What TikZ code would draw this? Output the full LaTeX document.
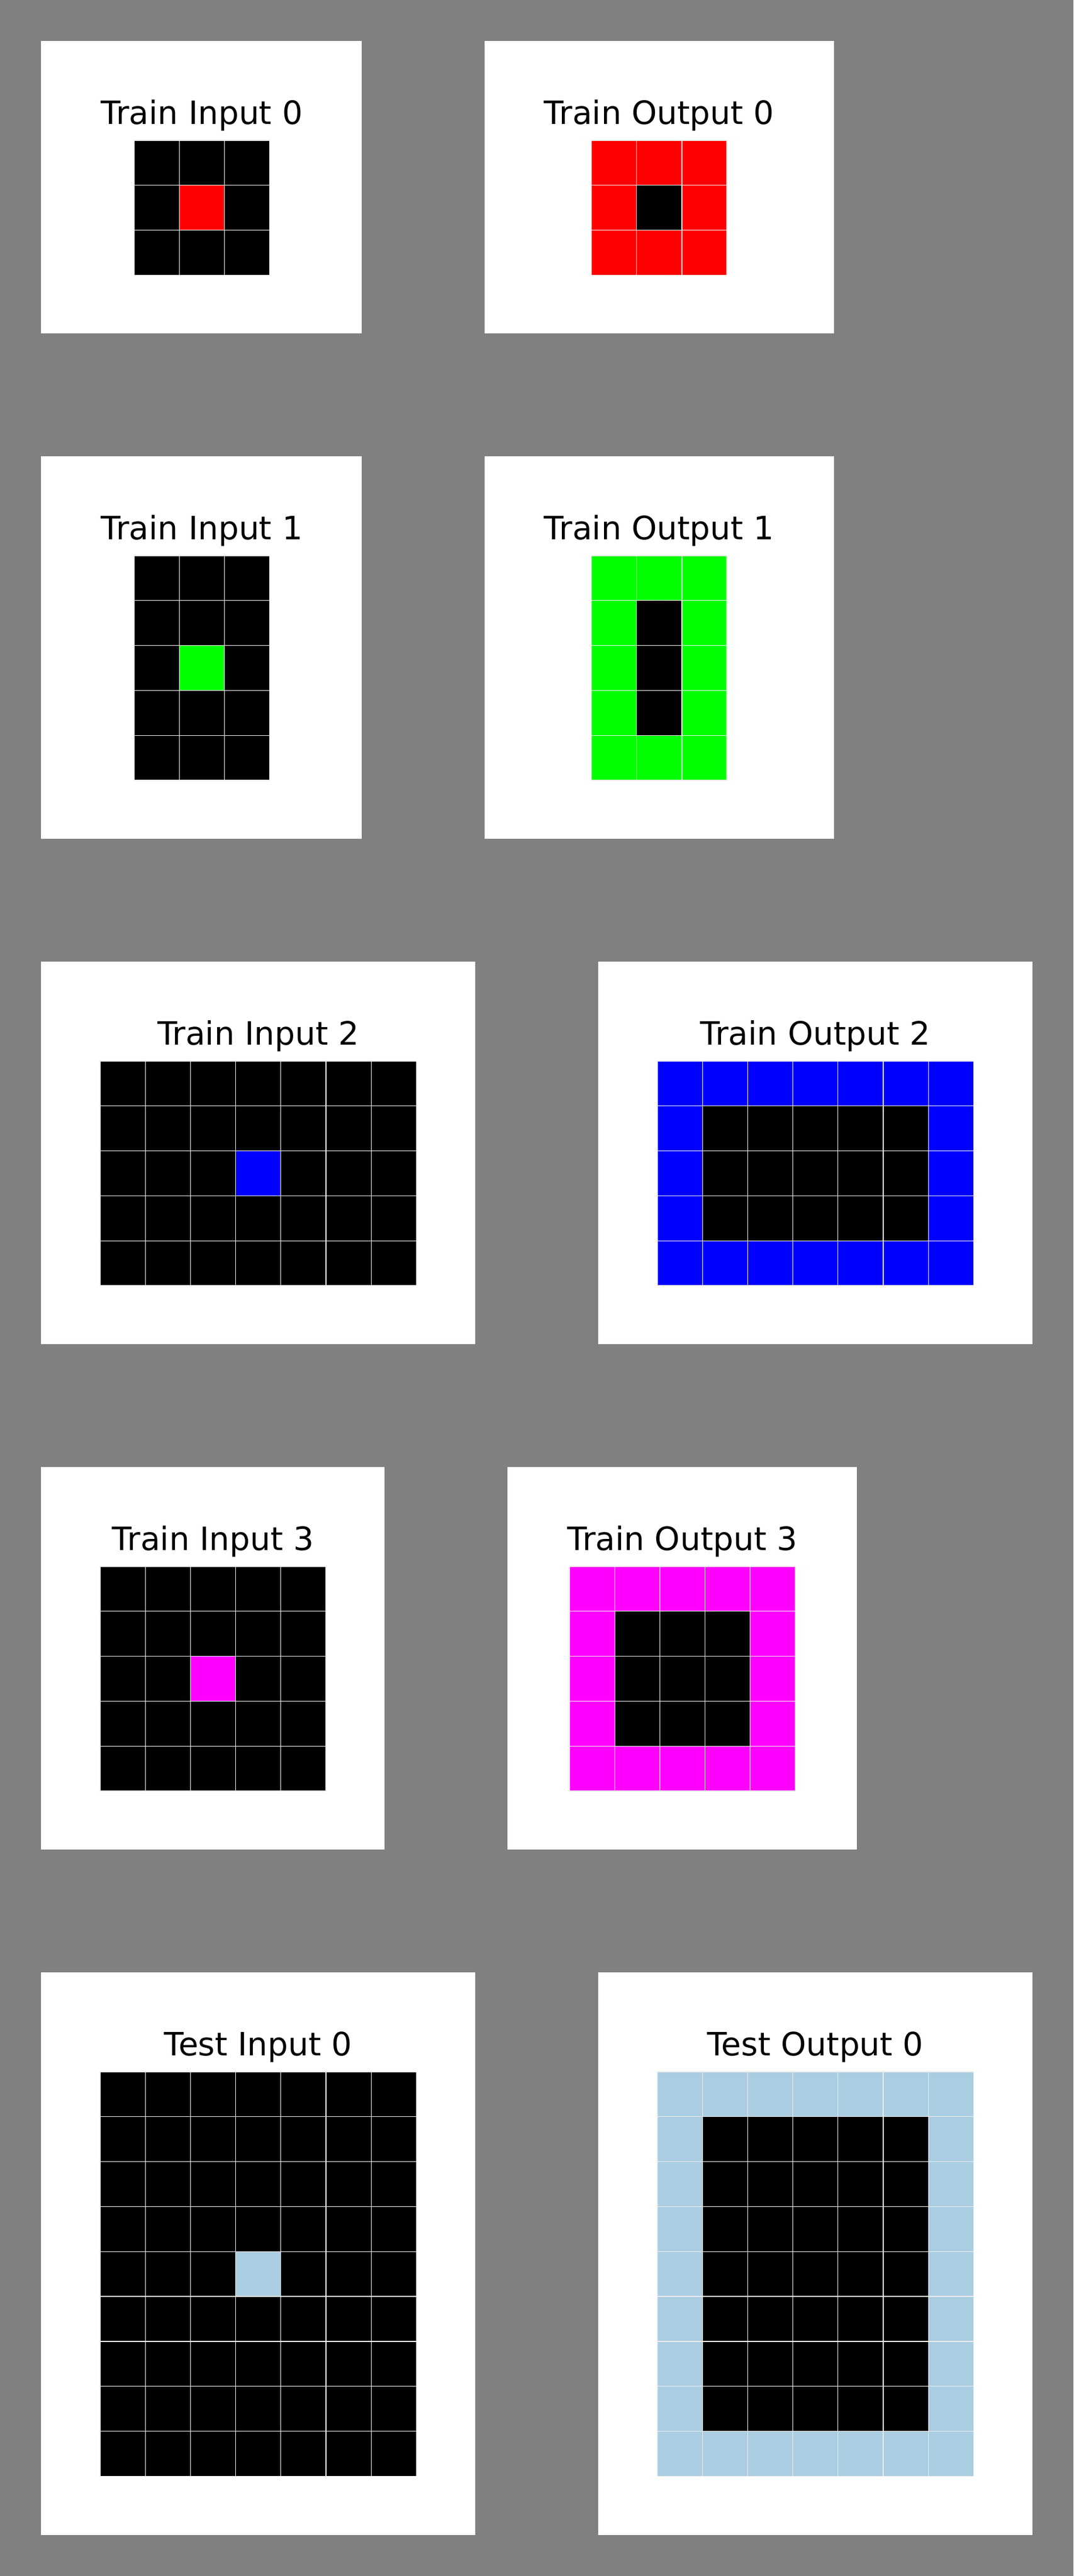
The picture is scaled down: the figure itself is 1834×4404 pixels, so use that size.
\documentclass[tikz,border=0pt]{standalone}
\usepackage{fontspec}
\setmainfont{DejaVu Sans}
\definecolor{bgc}{RGB}{128,128,128}
\definecolor{arcred}{RGB}{255,0,0}
\definecolor{arcgreen}{RGB}{0,255,0}
\definecolor{arcblue}{RGB}{0,0,255}
\definecolor{arcmag}{RGB}{255,0,255}
\definecolor{arclblue}{RGB}{170,205,225}
\def\cw{77.2}
\def\ch{76.8}
% base fill of a grid: gx gy cols rows colour
\newcommand\gridbase[5]{\fill[#5] (#1,#2) rectangle ++({#3*\cw},{#4*\ch});}
% single cell: gx gy col row colour
\newcommand\gridcell[5]{\fill[#5] ({#1+#3*\cw},{#2+#4*\ch}) rectangle ++(\cw,\ch);}
% inner block (one-cell border left): gx gy cols rows colour
\newcommand\gridinner[5]{\fill[#5] ({#1+\cw},{#2+\ch}) rectangle ++({(#3-2)*\cw},{(#4-2)*\ch});}
% grid lines: gx gy cols rows
\newcommand\gridlines[4]{%
  \foreach \i in {0,...,#3}{\draw[gline] ({#1+\i*\cw},#2) -- ++(0,{#4*\ch});}%
  \foreach \j in {0,...,#4}{\draw[gline] (#1,{#2+\j*\ch}) -- ++({#3*\cw},0);}%
}
\begin{document}
\begin{tikzpicture}[x=1pt,y=-1pt,
  panel/.style={fill=white},
  gline/.style={draw=white!92!black,line width=1.3pt},
  ttl/.style={font=\fontsize{55}{66}\selectfont,anchor=base,inner sep=0pt,text=black}]
\fill[bgc] (0,0) rectangle (1834,4404);
\useasboundingbox (0,0) rectangle (1834,4404);

% ---------- Row 0 ----------
\fill[panel] (70,70) rectangle (618,570);
\node[ttl] (t_in0) at ({229+1.5*\cw},212) {Train Input 0};
\gridbase{229}{240}{3}{3}{black}
\gridcell{229}{240}{1}{1}{arcred}
\gridlines{229}{240}{3}{3}

\fill[panel] (828,70) rectangle (1425,570);
\node[ttl] (t_out0) at ({1010.5+1.5*\cw},212) {Train Output 0};
\gridbase{1010.5}{240}{3}{3}{arcred}
\gridinner{1010.5}{240}{3}{3}{black}
\gridlines{1010.5}{240}{3}{3}

% ---------- Row 1 ----------
\fill[panel] (70,780) rectangle (618,1434);
\node[ttl] (t_in1) at ({229+1.5*\cw},922) {Train Input 1};
\gridbase{229}{950}{3}{5}{black}
\gridcell{229}{950}{1}{2}{arcgreen}
\gridlines{229}{950}{3}{5}

\fill[panel] (828,780) rectangle (1425,1434);
\node[ttl] (t_out1) at ({1010.5+1.5*\cw},922) {Train Output 1};
\gridbase{1010.5}{950}{3}{5}{arcgreen}
\gridinner{1010.5}{950}{3}{5}{black}
\gridlines{1010.5}{950}{3}{5}

% ---------- Row 2 ----------
\fill[panel] (70,1644) rectangle (812,2298);
\node[ttl] (t_in2) at ({171+3.5*\cw},1786) {Train Input 2};
\gridbase{171}{1814}{7}{5}{black}
\gridcell{171}{1814}{3}{2}{arcblue}
\gridlines{171}{1814}{7}{5}

\fill[panel] (1022,1644) rectangle (1764,2298);
\node[ttl] (t_out2) at ({1123+3.5*\cw},1786) {Train Output 2};
\gridbase{1123}{1814}{7}{5}{arcblue}
\gridinner{1123}{1814}{7}{5}{black}
\gridlines{1123}{1814}{7}{5}

% ---------- Row 3 ----------
\fill[panel] (70,2508) rectangle (657,3161.5);
\node[ttl] (t_in3) at ({171+2.5*\cw},2650) {Train Input 3};
\gridbase{171}{2678}{5}{5}{black}
\gridcell{171}{2678}{2}{2}{arcmag}
\gridlines{171}{2678}{5}{5}

\fill[panel] (867,2508) rectangle (1464,3161.5);
\node[ttl] (t_out3) at ({973+2.5*\cw},2650) {Train Output 3};
\gridbase{973}{2678}{5}{5}{arcmag}
\gridinner{973}{2678}{5}{5}{black}
\gridlines{973}{2678}{5}{5}

% ---------- Row 4 (test) ----------
\fill[panel] (70,3372) rectangle (812,4334);
\node[ttl] (t_tin0) at ({171+3.5*\cw},3514) {Test Input 0};
\gridbase{171}{3542}{7}{9}{black}
\gridcell{171}{3542}{3}{4}{arclblue}
\gridlines{171}{3542}{7}{9}

\fill[panel] (1022,3372) rectangle (1764,4334);
\node[ttl] (t_tout0) at ({1123+3.5*\cw},3514) {Test Output 0};
\gridbase{1123}{3542}{7}{9}{arclblue}
\gridinner{1123}{3542}{7}{9}{black}
\gridlines{1123}{3542}{7}{9}
\end{tikzpicture}
\end{document}
